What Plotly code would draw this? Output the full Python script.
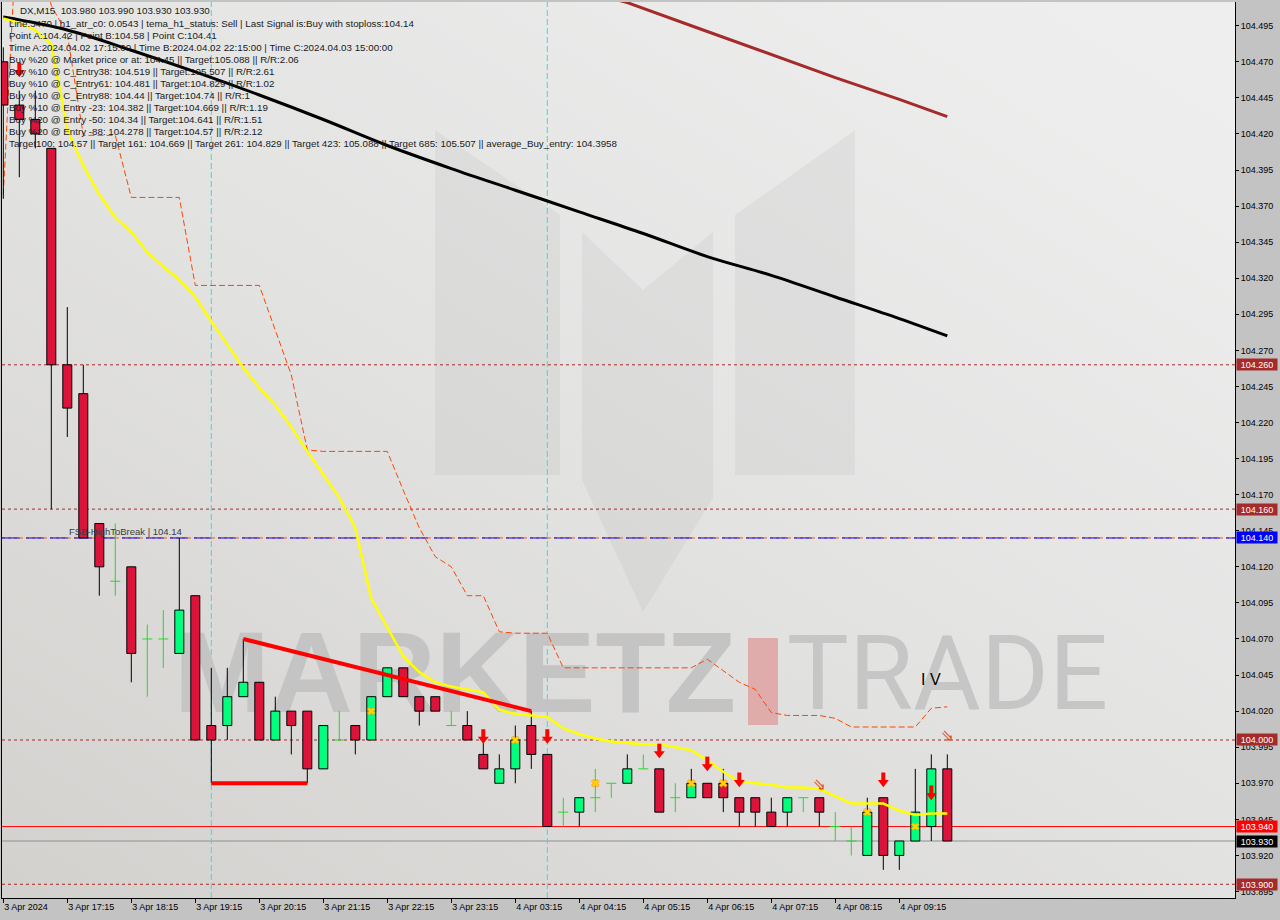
import base64
import plotly.graph_objects as go

# ---------------- data ----------------
bars = list(range(60))
opens = [104.470, 104.440, 104.430, 104.410, 104.260, 104.240, 104.150, 104.110, 104.120, 104.070,
         104.070, 104.060, 104.100, 104.010, 104.010, 104.030, 104.040, 104.000, 104.020, 104.020,
         103.980, 104.000, 104.010, 104.000, 104.030, 104.050, 104.030, 104.030, 104.010, 104.010,
         103.990, 103.970, 103.980, 104.010, 103.990, 103.950, 103.950, 103.960, 103.970, 103.970,
         103.980, 103.980, 103.960, 103.960, 103.970, 103.970, 103.960, 103.960, 103.950, 103.950,
         103.960, 103.960, 103.940, 103.930, 103.920, 103.960, 103.920, 103.930, 103.940, 103.980]
highs = [104.480, 104.450, 104.450, 104.410, 104.300, 104.260, 104.150, 104.150, 104.120, 104.080,
         104.090, 104.140, 104.100, 104.050, 104.050, 104.070, 104.040, 104.030, 104.020, 104.020,
         104.010, 104.020, 104.010, 104.030, 104.050, 104.050, 104.030, 104.030, 104.020, 104.020,
         104.000, 103.990, 104.010, 104.020, 103.990, 103.960, 103.960, 103.980, 103.970, 103.990,
         103.990, 103.980, 103.970, 103.980, 103.970, 103.980, 103.960, 103.960, 103.960, 103.960,
         103.960, 103.960, 103.950, 103.940, 103.960, 103.960, 103.930, 103.980, 103.990, 103.990]
lows = [104.375, 104.390, 104.410, 104.160, 104.210, 104.140, 104.100, 104.100, 104.040, 104.030,
        104.050, 104.060, 104.000, 103.970, 104.000, 104.030, 104.000, 104.000, 103.990, 103.970,
        103.980, 104.000, 103.990, 104.000, 104.030, 104.030, 104.010, 104.020, 104.010, 104.000,
        103.980, 103.970, 103.970, 103.980, 103.940, 103.940, 103.940, 103.950, 103.960, 103.970,
        103.980, 103.950, 103.950, 103.960, 103.960, 103.950, 103.940, 103.940, 103.940, 103.940,
        103.950, 103.940, 103.930, 103.920, 103.920, 103.910, 103.910, 103.930, 103.930, 103.930]
closes = [104.440, 104.430, 104.420, 104.260, 104.230, 104.140, 104.120, 104.110, 104.060, 104.070,
          104.070, 104.090, 104.000, 104.000, 104.030, 104.040, 104.000, 104.020, 104.010, 103.980,
          104.010, 104.000, 104.000, 104.030, 104.050, 104.030, 104.020, 104.020, 104.010, 104.000,
          103.980, 103.980, 104.000, 103.990, 103.940, 103.950, 103.960, 103.960, 103.970, 103.980,
          103.980, 103.950, 103.960, 103.970, 103.960, 103.960, 103.950, 103.950, 103.940, 103.960,
          103.960, 103.950, 103.940, 103.930, 103.950, 103.920, 103.930, 103.950, 103.980, 103.930]

yellow_ma = [104.500, 104.497, 104.492, 104.482, 104.423, 104.398, 104.378, 104.362, 104.352, 104.338,
             104.328, 104.319, 104.307, 104.290, 104.274, 104.258, 104.244, 104.232, 104.217, 104.200,
             104.184, 104.168, 104.147, 104.098, 104.078, 104.058, 104.047, 104.040, 104.037, 104.035,
             104.033, 104.021, 104.018, 104.017, 104.016, 104.008, 104.004, 104.001, 103.999, 103.998,
             103.997, 103.997, 103.995, 103.993, 103.986, 103.978, 103.971, 103.970, 103.969, 103.967,
             103.967, 103.966, 103.961, 103.956, 103.956, 103.956, 103.951, 103.948, 103.949, 103.949]

stop_line = [104.378, 104.596, 104.554, 104.509, 104.489, 104.419, 104.419, 104.419, 104.376, 104.376,
             104.376, 104.376, 104.315, 104.315, 104.315, 104.315, 104.315, 104.284, 104.253, 104.201,
             104.200, 104.200, 104.200, 104.200, 104.200, 104.173, 104.147, 104.127, 104.120, 104.100,
             104.100, 104.075, 104.074, 104.074, 104.074, 104.050, 104.050, 104.050, 104.050, 104.050,
             104.050, 104.050, 104.050, 104.050, 104.056, 104.048, 104.040, 104.035, 104.019, 104.017,
             104.017, 104.017, 104.015, 104.009, 104.009, 104.009, 104.009, 104.009, 104.022, 104.023]

tema_bars = [0, 4, 8, 12, 16, 20, 24, 28, 32, 36, 40, 44, 48, 52, 56, 59]
tema_vals = [104.501, 104.492, 104.478, 104.463, 104.447, 104.430, 104.412, 104.396, 104.381,
             104.366, 104.351, 104.335, 104.322, 104.307, 104.292, 104.280]

h1_bars = [38, 39, 44, 48, 52, 56, 59]
h1_vals = [104.514, 104.511, 104.491, 104.475, 104.459, 104.444, 104.432]

trend_bars = [15, 33]
trend_vals = [104.070, 104.020]
support_bars = [13, 19]
support_vals = [103.970, 103.970]

arrow_bars = [1, 30, 34, 41, 44, 46, 55, 58]
arrow_vals = [104.464, 104.002, 104.002, 103.992, 103.983, 103.972, 103.972, 103.963]
cross_bars = [23, 32, 37, 43, 45, 54, 57]
cross_vals = [104.020, 104.000, 103.970, 103.970, 103.970, 103.950, 103.940]
hollow_bars = [51, 59]
hollow_vals = [103.968, 104.002]

separator_bars = [13, 34]

x_tick_bars = [0, 4, 8, 12, 16, 20, 24, 28, 32, 36, 40, 44, 48, 52, 56]
x_tick_labels = ["3 Apr 2024", "3 Apr 17:15", "3 Apr 18:15", "3 Apr 19:15", "3 Apr 20:15",
                 "3 Apr 21:15", "3 Apr 22:15", "3 Apr 23:15", "4 Apr 03:15", "4 Apr 04:15",
                 "4 Apr 05:15", "4 Apr 06:15", "4 Apr 07:15", "4 Apr 08:15", "4 Apr 09:15"]
y_tick_labels = ["104.495", "104.470", "104.445", "104.420", "104.395", "104.370", "104.345",
                 "104.320", "104.295", "104.270", "104.245", "104.220", "104.195", "104.170",
                 "104.145", "104.120", "104.095", "104.070", "104.045", "104.020", "103.995",
                 "103.970", "103.945", "103.920", "103.895"]
y_tick_vals = [float(t) for t in y_tick_labels]

dashed_levels = [104.260, 104.160, 104.000, 103.900]
fsb_level = 104.140
red_level = 103.940
bid_level = 103.930

header_lines = [
    "DX,M15  103.980 103.990 103.930 103.930",
    "Line:3470 | h1_atr_c0: 0.0543 | tema_h1_status: Sell | Last Signal is:Buy with stoploss:104.14",
    "Point A:104.42 | Point B:104.58 | Point C:104.41",
    "Time A:2024.04.02 17:15:00 | Time B:2024.04.02 22:15:00 | Time C:2024.04.03 15:00:00",
    "Buy %20 @ Market price or at: 104.45 || Target:105.088 || R/R:2.06",
    "Buy %10 @ C_Entry38: 104.519 || Target:105.507 || R/R:2.61",
    "Buy %10 @ C_Entry61: 104.481 || Target:104.829 || R/R:1.02",
    "Buy %10 @ C_Entry88: 104.44 || Target:104.74 || R/R:1",
    "Buy %10 @ Entry -23: 104.382 || Target:104.669 || R/R:1.19",
    "Buy %20 @ Entry -50: 104.34 || Target:104.641 || R/R:1.51",
    "Buy %20 @ Entry -88: 104.278 || Target:104.57 || R/R:2.12",
    "Target100: 104.57 || Target 161: 104.669 || Target 261: 104.829 || Target 423: 105.088 || Target 685: 105.507 || average_Buy_entry: 104.3958",
]

# ---------------- geometry / style ----------------
W, H = 1280, 920
ML, MR, MT, MB = 2, 45, 2, 22
PW, PH = W - ML - MR, H - MT - MB
BAR_PX = 16.0
X0 = -1.3 / BAR_PX
X1 = X0 + PW / BAR_PX
Y1 = 104.51143
Y0 = Y1 - PH / 1443.0
PPX = (Y1 - Y0) / PH  # price per pixel
HW = 4.5 / BAR_PX
DHW = 5.0 / BAR_PX

FONT = "Liberation Sans, Arial, sans-serif"

fig = go.Figure()

# background (gradient + logo) as svg image, no text
SW, SH = PW, PH
def P(x, y):
    return f"{x - ML:.1f},{y - MT:.1f}"
logo_left = " ".join(P(*p) for p in [(435, 130), (560, 215), (560, 475), (435, 475)])
logo_mid = " ".join(P(*p) for p in [(582, 232), (643, 290), (713, 232), (713, 498), (643, 612), (582, 480)])
logo_right = " ".join(P(*p) for p in [(855, 130), (855, 475), (735, 475), (735, 215)])
svg = f'''<svg xmlns="http://www.w3.org/2000/svg" width="{SW}" height="{SH}" viewBox="0 0 {SW} {SH}" preserveAspectRatio="none">
<defs><linearGradient id="g" x1="0" y1="1" x2="0.85" y2="0">
<stop offset="0" stop-color="#d3d1ce"/><stop offset="0.5" stop-color="#e2e2e1"/><stop offset="1" stop-color="#eeeeee"/></linearGradient></defs>
<rect width="{SW}" height="{SH}" fill="url(#g)"/>
<g fill="#000000" fill-opacity="0.04">
<polygon points="{logo_left}"/><polygon points="{logo_mid}"/><polygon points="{logo_right}"/>
</g>
<rect x="{748 - ML}" y="{638 - MT}" width="30" height="87" fill="#dfabab"/>
</svg>'''
src = "data:image/svg+xml;base64," + base64.b64encode(svg.encode()).decode()
fig.add_layout_image(dict(source=src, xref="paper", yref="paper", x=0, y=1, sizex=1, sizey=1,
                          xanchor="left", yanchor="top", sizing="stretch", layer="below"))

# watermark text (behind candles)
fig.add_trace(go.Scatter(x=[(455 - 3.3) / BAR_PX], y=[104.0395], mode="text", text=["<b>MARKETZ</b>"],
                         textfont=dict(family="Liberation Sans", size=115, color="#c4c4c4"),
                         hoverinfo="skip", showlegend=False))
fig.add_trace(go.Scatter(x=[(947.5 - 3.3) / BAR_PX], y=[104.0395], mode="text", text=["TRADE"],
                         textfont=dict(family="Roboto, Liberation Sans", size=104, color="#c6c6c6"),
                         hoverinfo="skip", showlegend=False))

# stop line
fig.add_trace(go.Scatter(x=bars, y=stop_line, mode="lines",
                         line=dict(color="#ff4500", width=1, dash="6px,3px"),
                         hoverinfo="skip", showlegend=False))
# tema black & h1 brown
fig.add_trace(go.Scatter(x=tema_bars, y=tema_vals, mode="lines", line=dict(color="#000000", width=3, shape="spline"),
                         hoverinfo="skip", showlegend=False))
fig.add_trace(go.Scatter(x=h1_bars, y=h1_vals, mode="lines", line=dict(color="#a52a2a", width=3),
                         hoverinfo="skip", showlegend=False))

# candles
doji = [i for i in bars if opens[i] == closes[i]]
wx, wy = [], []
ux, uy, dx_, dy_ = [], [], [], []
gx, gy = [], []
for i in bars:
    if i in doji:
        gx += [i, i, None, i - DHW, i + DHW, None]
        gy += [lows[i], highs[i], None, opens[i], opens[i], None]
        continue
    wx += [i, i, None]
    wy += [lows[i], highs[i], None]
    top, bot = max(opens[i], closes[i]), min(opens[i], closes[i])
    xs = [i - HW, i - HW, i + HW, i + HW, i - HW, None]
    ys = [bot, top, top, bot, bot, None]
    if closes[i] > opens[i]:
        ux += xs; uy += ys
    else:
        dx_ += xs; dy_ += ys
fig.add_trace(go.Scatter(x=wx, y=wy, mode="lines", line=dict(color="#000000", width=1),
                         hoverinfo="skip", showlegend=False))
fig.add_trace(go.Scatter(x=gx, y=gy, mode="lines", line=dict(color="#22dd22", width=1),
                         hoverinfo="skip", showlegend=False))
fig.add_trace(go.Scatter(x=ux, y=uy, mode="lines", fill="toself", fillcolor="#00ff7f",
                         line=dict(color="#000000", width=1), hoverinfo="skip", showlegend=False))
fig.add_trace(go.Scatter(x=dx_, y=dy_, mode="lines", fill="toself", fillcolor="#dc143c",
                         line=dict(color="#000000", width=1), hoverinfo="skip", showlegend=False))

# yellow MA
fig.add_trace(go.Scatter(x=bars, y=yellow_ma, mode="lines", line=dict(color="#ffff00", width=2.5),
                         hoverinfo="skip", showlegend=False))
# red trend + support
fig.add_trace(go.Scatter(x=trend_bars, y=trend_vals, mode="lines", line=dict(color="#ff0000", width=4),
                         hoverinfo="skip", showlegend=False))
fig.add_trace(go.Scatter(x=support_bars, y=support_vals, mode="lines", line=dict(color="#ff0000", width=4),
                         hoverinfo="skip", showlegend=False))

# markers
fig.add_trace(go.Scatter(x=cross_bars, y=cross_vals, mode="markers",
                         marker=dict(symbol="x", size=7, color="#ffd700", line=dict(color="#ff8c00", width=0.6)),
                         hoverinfo="skip", showlegend=False))
fig.add_trace(go.Scatter(x=arrow_bars, y=[v + 3 * PPX for v in arrow_vals], mode="markers",
                         marker=dict(symbol="line-ns", size=7, line=dict(color="#ff0000", width=4)),
                         hoverinfo="skip", showlegend=False))
fig.add_trace(go.Scatter(x=arrow_bars, y=[v - 2 * PPX for v in arrow_vals], mode="markers",
                         marker=dict(symbol="triangle-down", size=9.5, color="#ff0000", line=dict(width=0)),
                         hoverinfo="skip", showlegend=False))
fig.add_trace(go.Scatter(x=hollow_bars, y=hollow_vals, mode="text", text=["⇘"] * len(hollow_bars),
                         textfont=dict(family="DejaVu Sans", size=16, color="#e0501e"),
                         hoverinfo="skip", showlegend=False))

# ---------------- shapes ----------------
shapes = []
for lv in dashed_levels:
    shapes.append(dict(type="line", xref="paper", x0=0, x1=1, yref="y", y0=lv, y1=lv, layer="below",
                       line=dict(color="#a52a2a", width=1, dash="3px,3px")))
shapes.append(dict(type="line", xref="paper", x0=0, x1=1, yref="y", y0=fsb_level, y1=fsb_level, layer="below",
                   line=dict(color="#ff5a00", width=1, dash="3px,3px")))
shapes.append(dict(type="line", xref="paper", x0=0, x1=1, yref="y", y0=fsb_level, y1=fsb_level, layer="below",
                   line=dict(color="#0000ff", width=1, dash="18px,6px")))
shapes.append(dict(type="line", xref="paper", x0=0, x1=1, yref="y", y0=red_level, y1=red_level, layer="below",
                   line=dict(color="#ff0000", width=1)))
shapes.append(dict(type="line", xref="paper", x0=0, x1=1, yref="y", y0=bid_level, y1=bid_level, layer="below",
                   line=dict(color="#8a9099", width=1)))
for sb in separator_bars:
    shapes.append(dict(type="line", xref="x", x0=sb, x1=sb, yref="paper", y0=0, y1=1, layer="below",
                       line=dict(color="#33e0e0", width=1, dash="6px,3px")))

# ---------------- annotations ----------------
ann = []
for i, line in enumerate(header_lines):
    ypx = 10 if i == 0 else 23.5 + 12 * (i - 1)
    xpx = 18 if i == 0 else 7
    ann.append(dict(text=line, xref="paper", yref="paper", x=0, y=1, xanchor="left", yanchor="middle",
                    xshift=xpx - ML, yshift=-(ypx - MT), showarrow=False,
                    font=dict(family=FONT, size=9.75, color="#1a1a1a")))
ann.append(dict(text="FSB-HighToBreak | 104.14", x=4, y=fsb_level, xref="x", yref="y", xanchor="left",
                yanchor="bottom", showarrow=False, yshift=-1, font=dict(family=FONT, size=9.5, color="#3a3a3a")))
ann.append(dict(text="I V", x=58, y=104.042, xref="x", yref="y", xanchor="center", yanchor="middle",
                showarrow=False, font=dict(family=FONT, size=16, color="#000000")))

def box(level, bg, fg="#ffffff"):
    return dict(text=f"{level:.3f}", xref="paper", x=1, xanchor="left", xshift=1, yref="y", y=level,
                yanchor="middle", showarrow=False, bgcolor=bg, width=40, height=11, borderpad=0,
                font=dict(family=FONT, size=9, color=fg))
for lv in dashed_levels:
    ann.append(box(lv, "#a52a2a"))
ann.append(box(fsb_level, "#0000ff"))
ann.append(box(red_level, "#ff0000"))
ann.append(box(bid_level, "#000000"))

fig.update_layout(
    width=W, height=H, margin=dict(l=ML, r=MR, t=MT, b=MB, pad=0),
    paper_bgcolor="#c3c3c3", plot_bgcolor="#e0dfdd",
    showlegend=False, hovermode=False,
    shapes=shapes, annotations=ann,
    xaxis=dict(range=[X0, X1], showgrid=False, zeroline=False, showline=True, linecolor="#000000", linewidth=1,
               tickmode="array", tickvals=x_tick_bars, ticktext=x_tick_labels, ticks="outside", ticklen=4,
               tickcolor="#000000", ticklabelposition="outside right",
               tickfont=dict(family=FONT, size=9, color="#000000"), rangeslider=dict(visible=False), fixedrange=True),
    yaxis=dict(range=[Y0, Y1], side="right", showgrid=False, zeroline=False, showline=True, mirror=True,
               linecolor="#000000", linewidth=1, tickmode="array", tickvals=y_tick_vals, ticktext=y_tick_labels,
               ticks="outside", ticklen=3, tickcolor="#000000",
               tickfont=dict(family=FONT, size=9, color="#000000"), fixedrange=True),
)

fig.write_html("out.html", config={"displayModeBar": False},
               post_script="document.body.style.margin='0';document.body.style.overflow='hidden';")
